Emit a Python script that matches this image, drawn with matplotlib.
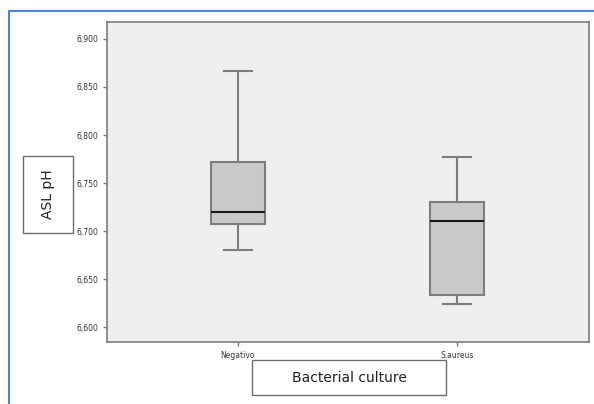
import matplotlib
matplotlib.use('Agg')
import matplotlib.pyplot as plt
from matplotlib.patches import Rectangle
from matplotlib.lines import Line2D

groups = ['Negativo', 'S.aureus']
whislo = [6.680, 6.624]
q1 = [6.7076, 6.633]
med = [6.7195, 6.710]
q3 = [6.772, 6.730]
whishi = [6.867, 6.777]
yticks = [6.600, 6.650, 6.700, 6.750, 6.800, 6.850, 6.900]

stats = []
for i in range(len(groups)):
    stats.append({'label': groups[i], 'whislo': whislo[i], 'q1': q1[i],
                  'med': med[i], 'q3': q3[i], 'whishi': whishi[i], 'fliers': []})

W, H = 594, 404
fig = plt.figure(figsize=(5.94, 4.04), dpi=100)
fig.patch.set_facecolor('white')
ax = fig.add_axes([107 / W, 1 - 342 / H, (589 - 107) / W, (342 - 22) / H])
ax.set_facecolor('#eeefef')

edge = '#7d7d7d'
ax.bxp(stats, positions=[1, 2], widths=0.25, patch_artist=True, showfliers=False,
       boxprops=dict(facecolor='#c9c9c9', edgecolor=edge, linewidth=1.5),
       whiskerprops=dict(color=edge, linewidth=1.5),
       capprops=dict(color=edge, linewidth=1.5),
       medianprops=dict(color='#1a1a1a', linewidth=1.5),
       capwidths=0.125)

ax.set_xlim(0.402, 2.603)
ax.set_ylim(6.5844, 6.9177)
ax.set_yticks(yticks)
ax.set_yticklabels([('%.3f' % v).replace('.', ',') for v in yticks])
ax.set_xticks([1, 2])
ax.set_xticklabels(groups)
ax.tick_params(labelsize=5.5, colors='#333333', length=3, width=1)
ax.tick_params(axis='both', color=edge)
for s in ax.spines.values():
    s.set_color(edge)
    s.set_linewidth(1.2)

# blue frame
fig.add_artist(Line2D([8.5 / W, 8.5 / W], [0, 1 - 11 / H], color='#4a86d4', lw=1.5, transform=fig.transFigure))
fig.add_artist(Line2D([8.5 / W, 1], [1 - 11 / H, 1 - 11 / H], color='#4a86d4', lw=1.5, transform=fig.transFigure))

# label boxes
fig.add_artist(Rectangle((23 / W, 1 - 233 / H), 50 / W, 77 / H, transform=fig.transFigure,
                         facecolor='white', edgecolor='#6b6b6b', lw=1))
fig.text(48 / W, 1 - 194.5 / H, 'ASL pH', rotation=90, ha='center', va='center',
         fontsize=10, color='#222222')
fig.add_artist(Rectangle((252 / W, 1 - 395 / H), 194 / W, 35 / H, transform=fig.transFigure,
                         facecolor='white', edgecolor='#6b6b6b', lw=1))
fig.text(349 / W, 1 - 377.5 / H, 'Bacterial culture', ha='center', va='center',
         fontsize=10, color='#222222')

fig.savefig('out.png', dpi=100)
